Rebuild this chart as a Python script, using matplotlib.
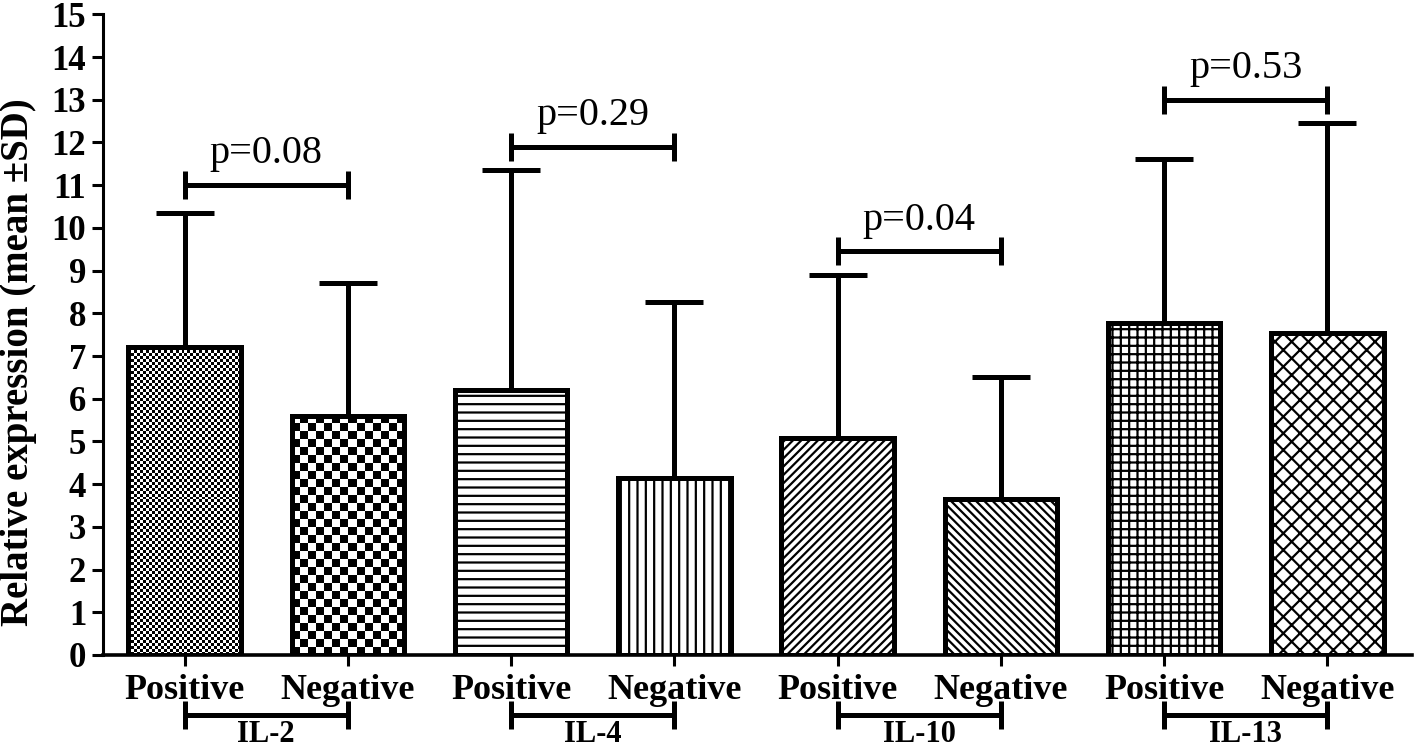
import numpy as np
import matplotlib
matplotlib.use("Agg")
import matplotlib.pyplot as plt

plt.rcParams['font.family'] = ['Liberation Serif', 'DejaVu Serif']
plt.rcParams['hatch.linewidth'] = 1.6

# data
groups = ["IL-2", "IL-4", "IL-10", "IL-13"]
conditions = ["Positive", "Negative"]
means = [7.21, 5.60, 6.20, 4.15, 5.08, 3.65, 7.78, 7.54]
sds = [3.14, 3.11, 5.16, 4.12, 3.82, 2.86, 3.84, 4.92]
p_values = ["p=0.08", "p=0.29", "p=0.04", "p=0.53"]
p_heights = [11.0, 11.9, 9.45, 13.0]

# fill style for each bar: ('checker', cell px) or hatch string
fills = [("checker", 3), ("checker", 8), ("hatch", "--"), ("hatch", "||"),
         ("hatch", "////"), ("hatch", "\\\\\\\\"), ("hatch", "++"), ("hatch", "xx")]

fig = plt.figure(figsize=(14.18, 7.54), dpi=100)
ax = fig.add_axes([0.0726, 0.1313, 0.9234, 0.8497])

x = np.arange(len(means))
width = 0.69

bars = ax.bar(x, means, width=width, facecolor="white", edgecolor="black",
              linewidth=3.6, zorder=3)
ax.set_xlim(-0.5, 7.52)
ax.set_ylim(0, 15)

fig.canvas.draw()
for bar, (kind, style) in zip(bars, fills):
    if kind == "hatch":
        bar.set_hatch(style)
    else:
        bar.set_facecolor("none")
        x0, y0 = bar.get_x(), bar.get_y()
        x1, y1 = x0 + bar.get_width(), y0 + bar.get_height()
        (px0, py0), (px1, py1) = ax.transData.transform([(x0, y0), (x1, y1)])
        nx = max(int(round((px1 - px0) / style)), 1)
        ny = max(int(round((py1 - py0) / style)), 1)
        checker = np.indices((ny, nx)).sum(axis=0) % 2
        ax.imshow(checker, extent=(x0, x1, y0, y1), cmap="gray_r",
                  interpolation="nearest", aspect="auto", zorder=2,
                  vmin=0, vmax=1)

ax.errorbar(x, means, yerr=[np.zeros(len(sds)), sds], fmt="none", ecolor="black",
            elinewidth=3.6, capsize=21, capthick=3.6, zorder=4)
ax.set_xlim(-0.5, 7.52)
ax.set_ylim(0, 15)

# p-value brackets
for i, (txt, h) in enumerate(zip(p_values, p_heights)):
    xa, xb = x[2 * i], x[2 * i + 1]
    ax.plot([xa, xb], [h, h], color="black", lw=3.6, marker="|", markersize=20,
            mew=3.6, solid_capstyle="butt", zorder=5)
    ax.text((xa + xb) / 2, h + 0.3, txt, ha="center", va="bottom", fontsize=29)

# axes styling
for side in ["top", "right"]:
    ax.spines[side].set_visible(False)
ax.spines["left"].set_linewidth(2.2)
ax.spines["bottom"].set_linewidth(2.6)
ax.set_yticks(range(0, 16))
ax.set_xticks(x)
ax.set_xticklabels(conditions * len(groups))
ax.tick_params(axis="both", length=8, width=2.2, direction="out")
ax.tick_params(axis="x", labelsize=26, pad=6)
ax.tick_params(axis="y", labelsize=25, pad=4)
for lab in ax.get_xticklabels() + ax.get_yticklabels():
    lab.set_fontweight("bold")
ax.set_ylabel("Relative expression (mean \u00b1SD)", fontsize=28, fontweight="bold")
ax.yaxis.set_label_coords(-0.05, 0.457)

# group brackets below the tick labels
trans = ax.get_xaxis_transform()
for i, g in enumerate(groups):
    xa, xb = x[2 * i], x[2 * i + 1]
    ax.plot([xa, xb], [-0.094, -0.094], color="black", lw=3.6, marker="|",
            markersize=20, mew=3.6, solid_capstyle="butt", transform=trans,
            clip_on=False)
    ax.text((xa + xb) / 2, -0.101, g, ha="center", va="top", fontsize=22,
            fontweight="bold", transform=trans, clip_on=False)

fig.savefig("out.png", dpi=100)
